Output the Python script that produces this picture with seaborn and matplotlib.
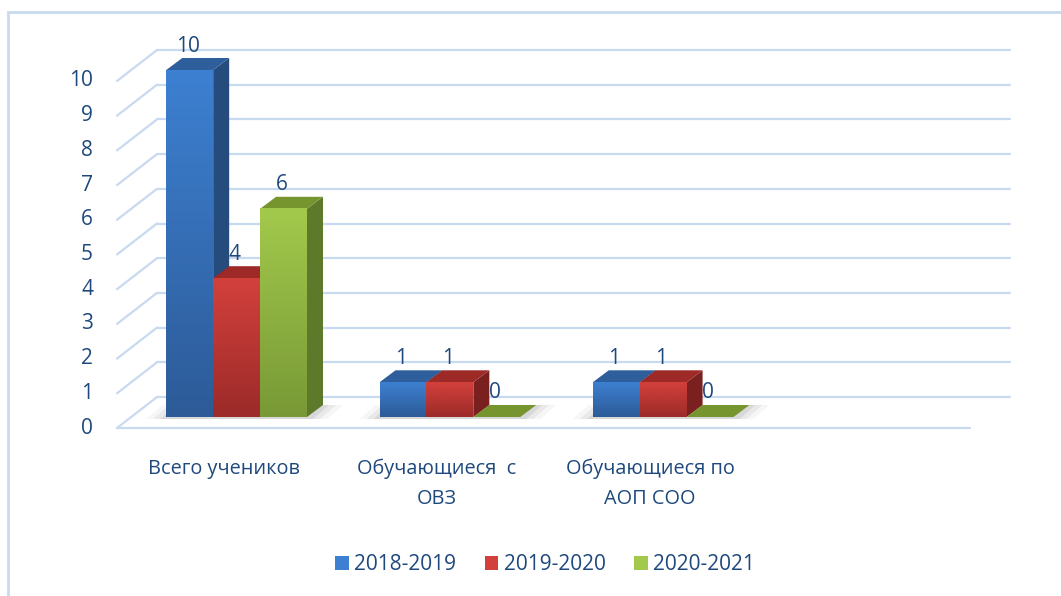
import numpy as np
import pandas as pd
import seaborn as sns
import matplotlib.pyplot as plt
from matplotlib.patches import Polygon, Rectangle
from matplotlib.lines import Line2D
from matplotlib.transforms import IdentityTransform, offset_copy
from matplotlib.colors import LinearSegmentedColormap

# data
categories = ['Всего учеников', 'Обучающиеся  с\nОВЗ', 'Обучающиеся по\nАОП СОО']
years = ['2018-2019', '2019-2020', '2020-2021']
values_2018 = [10, 1, 1]
values_2019 = [4, 1, 1]
values_2020 = [6, 0, 0]
yticks = [0, 1, 2, 3, 4, 5, 6, 7, 8, 9, 10]

df = pd.DataFrame({
    'category': categories * 3,
    'year': [y for y in years for _ in categories],
    'value': values_2018 + values_2019 + values_2020,
})

# colours: front top, front bottom, side, top face
front_top = ['#3d80d1', '#d2403c', '#a3c94c']
front_bot = ['#2d5b98', '#9c2b29', '#789936']
side_col = ['#264b7d', '#7a201e', '#5c7a29']
top_col = ['#2e5e9b', '#9d2a27', '#76952f']
text_col = '#1f497d'
grid_col = '#c8daf0'

sns.set_style('white')
plt.rcParams['font.family'] = ['Open Sans', 'DejaVu Sans']

fig = plt.figure(figsize=(10.61, 5.96), dpi=100)
ax = fig.add_axes([130 / 1061, 179 / 596, 853 / 1061, 347 / 596])

sns.barplot(data=df, x='category', y='value', hue='year', palette=front_top,
            width=0.66, linewidth=0, saturation=1, legend=False, ax=ax)
ax.set_xlim(-0.5, 3.5)
ax.set_ylim(0, 10)
ax.set_axis_off()

# pseudo 3d offsets in pixels
dep_x, dep_y = 16, 12      # bar depth
fr_x, fr_y = -13, -11      # front plane relative to bars
bk_x, bk_y = 27, 20        # back wall relative to bars


def px(x, y, dx=0, dy=0):
    p = ax.transData.transform((x, y))
    return (p[0] + dx, p[1] + dy)


def line(p1, p2, **kw):
    ax.add_line(Line2D([p1[0], p2[0]], [p1[1], p2[1]], transform=IdentityTransform(),
                       clip_on=False, **kw))


def poly(pts, color, z, alpha=1.0):
    ax.add_patch(Polygon(pts, closed=True, facecolor=color, edgecolor='none',
                         transform=IdentityTransform(), clip_on=False, zorder=z, alpha=alpha))


x_lo, x_hi = ax.get_xlim()

# gridlines on the back wall and the left wall
for v in yticks:
    line(px(x_lo, v, bk_x, bk_y), px(x_hi, v, bk_x, bk_y), color=grid_col, lw=1.6, zorder=0.5)
    line(px(x_lo, v, fr_x, fr_y), px(x_lo, v, bk_x, bk_y), color=grid_col, lw=1.6, zorder=0.5)
line(px(x_lo, 0, fr_x, fr_y), px(x_hi, 0, fr_x, fr_y), color=grid_col, lw=1.6, zorder=0.5)

# tick labels on the front plane
tick_tr = offset_copy(ax.transData, fig=fig, x=fr_x - 24, y=fr_y, units='dots')
for v in yticks:
    ax.text(x_lo, v, str(v), transform=tick_tr, ha='right', va='center',
            fontsize=15, color=text_col, clip_on=False)

# category labels
cat_tr = offset_copy(ax.transData, fig=fig, x=fr_x, y=fr_y - 31, units='dots')
for i, c in enumerate(categories):
    ax.text(i, 0, c, transform=cat_tr, ha='center', va='top', fontsize=14.3,
            color=text_col, linespacing=1.65, clip_on=False)

# soft shadows under each group
for i in range(len(categories)):
    gx0 = ax.containers[0][i].get_x()
    gx1 = ax.containers[-1][i].get_x() + ax.containers[-1][i].get_width()
    for k, a in enumerate([0.05, 0.08, 0.11]):
        s = 20 - 7 * k
        poly([px(gx0, 0, -s, -2), px(gx1, 0, s, -2),
              px(gx1, 0, dep_x + s, dep_y), px(gx0, 0, dep_x - s, dep_y)], '#555555', 1, alpha=a)

# 3d faces and gradients
for j, cont in enumerate(ax.containers):
    cmap = LinearSegmentedColormap.from_list('g%d' % j, [front_bot[j], front_top[j]])
    for i, bar in enumerate(cont):
        x0 = bar.get_x()
        x1 = x0 + bar.get_width()
        h = bar.get_height()
        z = 2 + (i * 3 + j) * 3
        poly([px(x1, 0), px(x1, h), px(x1, h, dep_x, dep_y), px(x1, 0, dep_x, dep_y)],
             side_col[j], z)
        poly([px(x0, h), px(x1, h), px(x1, h, dep_x, dep_y), px(x0, h, dep_x, dep_y)],
             top_col[j], z + 1)
        bar.set_zorder(z + 2)
        if h > 0:
            grad = np.linspace(0, 1, 100).reshape(-1, 1)
            ax.imshow(grad, extent=[x0, x1, 0, h], origin='lower', aspect='auto',
                      cmap=cmap, zorder=z + 2.5)
        ax.text(x0 + bar.get_width() / 2, h, str(int(h)),
                transform=offset_copy(ax.transData, fig=fig, x=-2, y=24, units='dots'),
                ha='center', va='center', fontsize=15, color=text_col, zorder=100,
                clip_on=False)

ax.set_xlim(x_lo, x_hi)
ax.set_ylim(0, 10)

# legend
handles = [Rectangle((0, 0), 1, 1, facecolor=c, edgecolor='none') for c in front_top]
fig.legend(handles, years, loc='center', bbox_to_anchor=(545 / 1061, 31 / 596),
           ncol=3, frameon=False, fontsize=15, handlelength=0.67, handleheight=0.67,
           handletextpad=0.25, columnspacing=1.35, labelcolor=text_col)

# outer frame (only top and left visible)
fig.add_artist(Rectangle((8 / 1061, -0.1), 1.2, 584 / 596 + 0.1, transform=fig.transFigure,
                         fill=False, edgecolor=grid_col, lw=2))

fig.savefig('out.png', dpi=100)
